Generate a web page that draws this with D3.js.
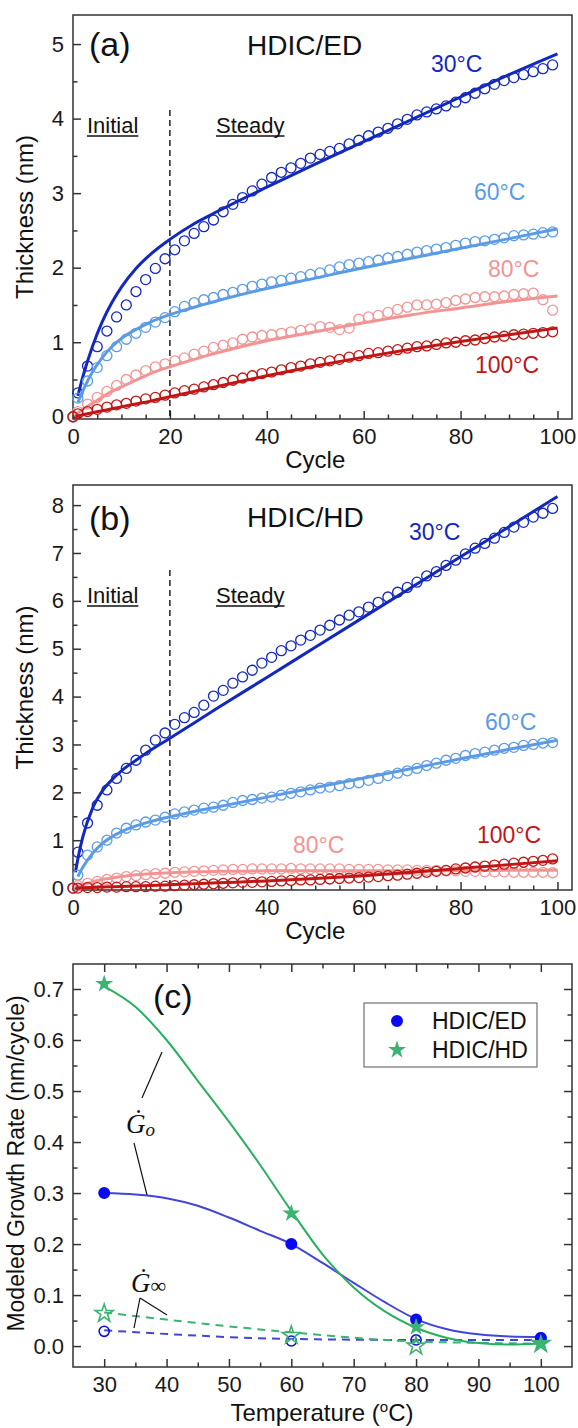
<!DOCTYPE html>
<html>
<head>
<meta charset="utf-8">
<script src="https://cdn.jsdelivr.net/npm/d3@7"></script>
<style>
  body { margin: 0; background: #fff; }
  svg { display: block; }
  text { font-family: "Liberation Sans", Arial, sans-serif; }
</style>
</head>
<body>
<div id="chart"></div>
<script>
// cycles where the measured thickness markers sit
const cycles = [0, 1, 3, 5, 7, 9, 11, 13, 15, 17, 19, 21, 23, 25, 27, 29, 31, 33, 35, 37, 39, 41, 43, 45, 47, 49,
  51, 53, 55, 57, 59, 61, 63, 65, 67, 69, 71, 73, 75, 77, 79, 81, 83, 85, 87, 89, 91, 93, 95, 97, 99];
// cycles where the model (fit) lines are sampled
const fitCycles = [0.5, 1, 2, 4, 6, 8, 10, 13, 16, 20, 25, 30, 40, 50, 60, 70, 80, 90, 100];

// (a) HDIC/ED measured thickness (nm)
const ed30 = [0, 0.32, 0.68, 0.94, 1.15, 1.34, 1.50, 1.68, 1.84, 1.99, 2.12, 2.24, 2.36, 2.46, 2.55, 2.64, 2.75, 2.85, 2.94, 3.03,
  3.12, 3.21, 3.28, 3.34, 3.40, 3.47, 3.52, 3.56, 3.60, 3.66, 3.71, 3.77, 3.82, 3.87, 3.93, 3.99, 4.05, 4.09, 4.13, 4.17,
  4.22, 4.28, 4.34, 4.40, 4.46, 4.51, 4.55, 4.59, 4.63, 4.67, 4.72];
const ed60 = [0, 0.25, 0.48, 0.66, 0.82, 0.94, 1.04, 1.12, 1.20, 1.27, 1.33, 1.41, 1.48, 1.53, 1.57, 1.60, 1.64, 1.67, 1.71, 1.75,
  1.78, 1.81, 1.83, 1.86, 1.88, 1.91, 1.93, 1.97, 2.01, 2.04, 2.06, 2.08, 2.10, 2.13, 2.15, 2.18, 2.21, 2.23, 2.25, 2.27,
  2.30, 2.33, 2.35, 2.36, 2.38, 2.40, 2.43, 2.44, 2.45, 2.47, 2.48];
const ed80 = [0, 0.07, 0.17, 0.26, 0.34, 0.42, 0.50, 0.56, 0.62, 0.67, 0.71, 0.75, 0.79, 0.84, 0.88, 0.93, 0.96, 0.99, 1.04, 1.07,
  1.09, 1.10, 1.12, 1.14, 1.16, 1.18, 1.21, 1.20, 1.17, 1.19, 1.31, 1.34, 1.36, 1.40, 1.44, 1.47, 1.50, 1.50, 1.51, 1.53,
  1.56, 1.58, 1.60, 1.61, 1.61, 1.62, 1.64, 1.65, 1.66, 1.57, 1.43];
const ed100 = [0, 0.04, 0.07, 0.10, 0.13, 0.16, 0.18, 0.21, 0.24, 0.26, 0.29, 0.32, 0.35, 0.37, 0.40, 0.43, 0.46, 0.49, 0.52, 0.55,
  0.58, 0.60, 0.63, 0.66, 0.68, 0.71, 0.73, 0.75, 0.77, 0.80, 0.82, 0.85, 0.86, 0.88, 0.90, 0.92, 0.94, 0.95, 0.97, 0.99,
  1.00, 1.02, 1.03, 1.05, 1.07, 1.08, 1.10, 1.11, 1.12, 1.13, 1.14];
// (a) model lines
const ed30Fit = [null, 0.28, 0.53, 0.94, 1.27, 1.53, 1.74, 1.99, 2.18, 2.38, 2.59, 2.76, 3.08, 3.39, 3.69, 3.99, 4.29, 4.59, 4.87];
const ed60Fit = [null, 0.19, 0.34, 0.60, 0.79, 0.94, 1.05, 1.17, 1.27, 1.37, 1.47, 1.56, 1.72, 1.86, 2.00, 2.13, 2.26, 2.39, 2.52];
const ed80Fit = [0.02, 0.05, 0.10, 0.18, 0.26, 0.34, 0.40, 0.49, 0.58, 0.67, 0.77, 0.86, 1.02, 1.14, 1.26, 1.37, 1.46, 1.55, 1.62];
const ed100Fit = [0.007, 0.013, 0.027, 0.054, 0.08, 0.107, 0.133, 0.173, 0.21, 0.27, 0.34, 0.41, 0.55, 0.68, 0.80, 0.91, 1.01, 1.10, 1.19];

// (b) HDIC/HD measured thickness (nm)
const hd30 = [0, 0.75, 1.36, 1.73, 2.05, 2.29, 2.50, 2.67, 2.88, 3.09, 3.24, 3.42, 3.56, 3.67, 3.82, 4.01, 4.13, 4.28, 4.41, 4.55,
  4.70, 4.82, 4.96, 5.06, 5.18, 5.28, 5.39, 5.49, 5.60, 5.70, 5.77, 5.87, 5.97, 6.08, 6.18, 6.28, 6.39, 6.52, 6.61, 6.74,
  6.85, 6.98, 7.10, 7.20, 7.31, 7.43, 7.54, 7.64, 7.75, 7.83, 7.93];
const hd60 = [0, 0.27, 0.69, 0.86, 1.00, 1.15, 1.25, 1.32, 1.38, 1.42, 1.48, 1.55, 1.59, 1.63, 1.67, 1.69, 1.73, 1.79, 1.83, 1.85,
  1.88, 1.90, 1.94, 1.98, 2.01, 2.05, 2.09, 2.11, 2.14, 2.18, 2.20, 2.25, 2.29, 2.35, 2.40, 2.45, 2.50, 2.56, 2.61, 2.67,
  2.71, 2.77, 2.81, 2.84, 2.88, 2.92, 2.94, 2.98, 3.00, 3.03, 3.04];
const hd80 = [0, 0.05, 0.10, 0.14, 0.18, 0.21, 0.24, 0.26, 0.28, 0.30, 0.31, 0.33, 0.34, 0.35, 0.36, 0.37, 0.38, 0.39, 0.39, 0.40,
  0.40, 0.40, 0.40, 0.41, 0.40, 0.40, 0.40, 0.40, 0.40, 0.39, 0.39, 0.39, 0.39, 0.38, 0.38, 0.38, 0.37, 0.37, 0.37, 0.36,
  0.36, 0.35, 0.35, 0.34, 0.34, 0.34, 0.33, 0.33, 0.33, 0.33, 0.32];
const hd100 = [0, 0.00, 0.01, 0.01, 0.02, 0.02, 0.03, 0.03, 0.03, 0.04, 0.04, 0.05, 0.06, 0.07, 0.08, 0.09, 0.10, 0.11, 0.12, 0.12,
  0.13, 0.14, 0.15, 0.16, 0.17, 0.17, 0.18, 0.19, 0.20, 0.21, 0.22, 0.23, 0.24, 0.26, 0.27, 0.29, 0.31, 0.33, 0.35, 0.37,
  0.40, 0.42, 0.44, 0.46, 0.48, 0.50, 0.52, 0.54, 0.56, 0.58, 0.61];
// (b) model lines
const hd30Fit = [0.33, 0.61, 1.06, 1.66, 2.02, 2.26, 2.45, 2.67, 2.88, 3.13, 3.45, 3.77, 4.40, 5.03, 5.66, 6.29, 6.92, 7.55, 8.18];
const hd60Fit = [null, 0.24, 0.43, 0.72, 0.93, 1.07, 1.18, 1.30, 1.39, 1.49, 1.60, 1.70, 1.90, 2.10, 2.30, 2.50, 2.70, 2.90, 3.09];
const hd80Fit = [0.02, 0.04, 0.07, 0.13, 0.18, 0.21, 0.24, 0.28, 0.30, 0.32, 0.34, 0.35, 0.36, 0.36, 0.36, 0.36, 0.36, 0.37, 0.37];
const hd100Fit = [0.002, 0.003, 0.007, 0.014, 0.021, 0.028, 0.035, 0.045, 0.055, 0.07, 0.09, 0.11, 0.15, 0.20, 0.26, 0.33, 0.41, 0.49, 0.57];

// (c) modeled growth rates (nm/cycle)
const temps = [30, 60, 80, 100];
const edGo = [0.30, 0.20, 0.052, 0.016];
const edGinf = [0.029, 0.010, 0.012, 0.016];
const hdGo = [0.71, 0.26, 0.037, 0.006];
const hdGinf = [0.064, 0.021, 0.0, 0.005];
const fitTemps = [30, 35, 40, 45, 50, 55, 60, 65, 70, 75, 80, 85, 90, 95, 100];
const edGoFit = [0.30, 0.297, 0.29, 0.275, 0.252, 0.226, 0.20, 0.163, 0.124, 0.086, 0.053, 0.033, 0.023, 0.019, 0.018];
const hdGoFit = [0.705, 0.665, 0.60, 0.52, 0.44, 0.355, 0.265, 0.18, 0.115, 0.068, 0.036, 0.016, 0.006, 0.003, 0.005];
const edGinfFit = [0.031, 0.014, 0.012, 0.012];
const hdGinfFit = [0.066, 0.027, 0.009, 0.005];

const tempLabels = ["30°C", "60°C", "80°C", "100°C"];
const tempColors = ["#1328bd", "#5b9be6", "#f29494", "#c01616"];
const axisColor = "#333";

const svg = d3.select("#chart").append("svg")
  .attr("width", 578)
  .attr("height", 1428);
svg.append("rect").attr("width", 578).attr("height", 1428).attr("fill", "#fff");

// ticks helper: d3 axis with inward ticks, domain path removed
function ticks(g, axisFn, scale, values, size, pad, fmt, tr) {
  const a = axisFn(scale).tickValues(values).tickSize(-size).tickPadding(pad)
    .tickFormat(fmt ? fmt : "");
  const sel = g.append("g").attr("transform", tr).call(a);
  sel.attr("font-size", null).attr("font-family", null);
  sel.select(".domain").remove();
  sel.selectAll("line").attr("stroke", axisColor).attr("stroke-width", 1.5);
  sel.selectAll("text").style("font-size", "22px").attr("fill", "#1a1a1a");
  return sel;
}

function underlined(g, str, x, yBase) {
  const t = g.append("text").attr("x", x).attr("y", yBase).style("font-size", "22px").attr("fill", "#111").text(str);
  const w = t.node().getComputedTextLength();
  g.append("line").attr("x1", x).attr("x2", x + w).attr("y1", yBase + 3).attr("y2", yBase + 3)
    .attr("stroke", "#111").attr("stroke-width", 1.4);
}

function thicknessPanel(p) {
  const x = d3.scaleLinear().domain([0, 103]).range([73, 572]);
  const y = d3.scaleLinear().domain(p.yDomain).range([p.bottom, p.top]);
  const g = svg.append("g");

  g.append("rect").attr("x", 73).attr("y", p.top).attr("width", 499).attr("height", p.bottom - p.top)
    .attr("fill", "none").attr("stroke", axisColor).attr("stroke-width", 1.5);

  ticks(g, d3.axisBottom, x, [0, 20, 40, 60, 80, 100], 8, 9, d3.format("d"), `translate(0,${p.bottom})`);
  ticks(g, d3.axisBottom, x, [5, 10, 15, 25, 30, 35, 45, 50, 55, 65, 70, 75, 85, 90, 95], 4.5, 9, null, `translate(0,${p.bottom})`);
  ticks(g, d3.axisLeft, y, p.yMajor, 8, 9, d3.format("d"), "translate(73,0)");
  ticks(g, d3.axisLeft, y, p.yMinor, 4.5, 9, null, "translate(73,0)");

  // stage divider and stage names
  g.append("line").attr("x1", x(20)).attr("x2", x(20)).attr("y1", p.dashTop).attr("y2", p.bottom)
    .attr("stroke", "#111").attr("stroke-width", 1.4).attr("stroke-dasharray", "6,4");
  underlined(g, "Initial", 87, p.stageY);
  underlined(g, "Steady", 216, p.stageY);

  const line = d3.line()
    .defined(d => d[1] != null)
    .x(d => x(d[0]))
    .y(d => y(d[1]))
    .curve(d3.curveMonotoneX);

  p.series.forEach((s, i) => {
    g.append("g").selectAll("circle")
      .data(cycles.map((c, k) => [c, s.points[k]]))
      .join("circle")
      .attr("cx", d => x(d[0]))
      .attr("cy", d => y(d[1]))
      .attr("r", 5)
      .attr("fill", "none")
      .attr("stroke", tempColors[i])
      .attr("stroke-width", 1.3);
    g.append("path")
      .datum(fitCycles.map((c, k) => [c, s.fit[k]]))
      .attr("d", line)
      .attr("fill", "none")
      .attr("stroke", tempColors[i])
      .attr("stroke-width", 3);
  });

  p.labels.forEach((l, i) => {
    g.append("text").attr("x", l[0]).attr("y", l[1]).style("font-size", "23px")
      .attr("fill", tempColors[i]).text(tempLabels[i]);
  });

  g.append("text").attr("x", 89).attr("y", p.tagY).style("font-size", "34px").attr("fill", "#111").text(p.tag);
  g.append("text").attr("x", 247).attr("y", p.titleY).style("font-size", "28px").attr("fill", "#111").text(p.title);

  g.append("text").attr("x", x(50)).attr("y", p.bottom + 49).attr("text-anchor", "middle")
    .style("font-size", "24px").attr("fill", "#111").text("Cycle");
  g.append("text").attr("transform", `translate(25,${(p.top + p.bottom) / 2}) rotate(-90)`)
    .attr("text-anchor", "middle").attr("dy", "0.35em").style("font-size", "24px").attr("fill", "#111")
    .text("Thickness (nm)");
}

thicknessPanel({
  top: 15, bottom: 419, yDomain: [-0.03, 5.39],
  yMajor: [0, 1, 2, 3, 4, 5], yMinor: [0.5, 1.5, 2.5, 3.5, 4.5],
  dashTop: 110, stageY: 133, tag: "(a)", tagY: 56, title: "HDIC/ED", titleY: 55,
  series: [
    { points: ed30, fit: ed30Fit },
    { points: ed60, fit: ed60Fit },
    { points: ed80, fit: ed80Fit },
    { points: ed100, fit: ed100Fit }
  ],
  labels: [[431, 72], [474, 200], [488, 277], [475, 373]]
});

thicknessPanel({
  top: 485, bottom: 890, yDomain: [-0.04, 8.42],
  yMajor: [0, 1, 2, 3, 4, 5, 6, 7, 8], yMinor: [0.5, 1.5, 2.5, 3.5, 4.5, 5.5, 6.5, 7.5],
  dashTop: 570, stageY: 603, tag: "(b)", tagY: 530, title: "HDIC/HD", titleY: 527,
  series: [
    { points: hd30, fit: hd30Fit },
    { points: hd60, fit: hd60Fit },
    { points: hd80, fit: hd80Fit },
    { points: hd100, fit: hd100Fit }
  ],
  labels: [[409, 540], [485, 730], [293, 853], [477, 843]]
});

// (c) growth rate vs temperature
(function ratePanel() {
  const top = 964, bottom = 1367;
  const x = d3.scaleLinear().domain([25, 105]).range([73, 572]);
  const y = d3.scaleLinear().domain([-0.041, 0.749]).range([bottom, top]);
  const g = svg.append("g");
  const blue = "#0a0af0", blueLine = "#4444d6", green = "#3cb371", greenLine = "#28b05e";

  g.append("rect").attr("x", 73).attr("y", top).attr("width", 499).attr("height", bottom - top)
    .attr("fill", "none").attr("stroke", axisColor).attr("stroke-width", 1.5);

  const xMaj = [30, 40, 50, 60, 70, 80, 90, 100], xMin = [35, 45, 55, 65, 75, 85, 95];
  const yMaj = [0, 0.1, 0.2, 0.3, 0.4, 0.5, 0.6, 0.7], yMin = [0.05, 0.15, 0.25, 0.35, 0.45, 0.55, 0.65];
  ticks(g, d3.axisBottom, x, xMaj, 8, 9, d3.format("d"), `translate(0,${bottom})`);
  ticks(g, d3.axisBottom, x, xMin, 4.5, 9, null, `translate(0,${bottom})`);
  ticks(g, d3.axisTop, x, xMaj, 8, 9, null, `translate(0,${top})`);
  ticks(g, d3.axisTop, x, xMin, 4.5, 9, null, `translate(0,${top})`);
  ticks(g, d3.axisLeft, y, yMaj, 8, 9, d3.format(".1f"), "translate(73,0)");
  ticks(g, d3.axisLeft, y, yMin, 4.5, 9, null, "translate(73,0)");
  ticks(g, d3.axisRight, y, yMaj, 8, 9, null, "translate(572,0)");
  ticks(g, d3.axisRight, y, yMin, 4.5, 9, null, "translate(572,0)");

  const line = d3.line().x(d => x(d[0])).y(d => y(d[1])).curve(d3.curveMonotoneX);
  const pairs = (xs, ys) => xs.map((v, i) => [v, ys[i]]);

  g.append("path").datum(pairs(temps, edGinfFit)).attr("d", line).attr("fill", "none")
    .attr("stroke", blueLine).attr("stroke-width", 2).attr("stroke-dasharray", "8,6");
  g.append("path").datum(pairs(temps, hdGinfFit)).attr("d", line).attr("fill", "none")
    .attr("stroke", green).attr("stroke-width", 2).attr("stroke-dasharray", "8,6");
  g.append("path").datum(pairs(fitTemps, edGoFit)).attr("d", line).attr("fill", "none")
    .attr("stroke", blueLine).attr("stroke-width", 2);
  g.append("path").datum(pairs(fitTemps, hdGoFit)).attr("d", line).attr("fill", "none")
    .attr("stroke", greenLine).attr("stroke-width", 2);

  const star = d3.symbol().type(d3.symbolStar).size(100);
  const dot = d3.symbol().type(d3.symbolCircle).size(113);
  const dotOpen = d3.symbol().type(d3.symbolCircle).size(80);

  g.append("g").selectAll("path").data(pairs(temps, edGinf)).join("path")
    .attr("transform", d => `translate(${x(d[0])},${y(d[1])})`).attr("d", dotOpen)
    .attr("fill", "none").attr("stroke", blue).attr("stroke-width", 1.6);
  g.append("g").selectAll("path").data(pairs(temps, hdGinf)).join("path")
    .attr("transform", d => `translate(${x(d[0])},${y(d[1])})`).attr("d", star)
    .attr("fill", "none").attr("stroke", green).attr("stroke-width", 1.6);
  g.append("g").selectAll("path").data(pairs(temps, edGo)).join("path")
    .attr("transform", d => `translate(${x(d[0])},${y(d[1])})`).attr("d", dot).attr("fill", blue);
  g.append("g").selectAll("path").data(pairs(temps, hdGo)).join("path")
    .attr("transform", d => `translate(${x(d[0])},${y(d[1])})`).attr("d", star).attr("fill", green);

  // legend
  g.append("rect").attr("x", 364).attr("y", 1003).attr("width", 173).attr("height", 64)
    .attr("fill", "#fff").attr("stroke", "#555").attr("stroke-width", 1);
  g.append("path").attr("transform", "translate(397,1021)").attr("d", dot).attr("fill", blue);
  g.append("path").attr("transform", "translate(397,1050)").attr("d", star).attr("fill", green);
  g.append("text").attr("x", 432).attr("y", 1029).style("font-size", "23px").attr("fill", "#111").text("HDIC/ED");
  g.append("text").attr("x", 432).attr("y", 1058).style("font-size", "23px").attr("fill", "#111").text("HDIC/HD");

  g.append("text").attr("x", 153).attr("y", 1008).style("font-size", "34px").attr("fill", "#111").text("(c)");

  // annotation pointers
  const pointers = [[162, 1052, 142, 1098], [134, 1143, 147, 1195], [140, 1298, 167, 1315], [140, 1298, 134, 1328]];
  g.selectAll(".ptr").data(pointers).join("line")
    .attr("x1", d => d[0]).attr("y1", d => d[1]).attr("x2", d => d[2]).attr("y2", d => d[3])
    .attr("stroke", "#111").attr("stroke-width", 1.2);
  const go = g.append("text").attr("x", 126).attr("y", 1133)
    .style("font-family", "'Liberation Serif', 'DejaVu Serif', serif").style("font-style", "italic").attr("fill", "#111");
  go.append("tspan").style("font-size", "27px").text("Ġ");
  go.append("tspan").style("font-size", "19px").attr("dy", 3).text("o");
  const gi = g.append("text").attr("x", 131).attr("y", 1292)
    .style("font-family", "'Liberation Serif', 'DejaVu Serif', serif").attr("fill", "#111");
  gi.append("tspan").style("font-size", "27px").style("font-style", "italic").text("Ġ");
  gi.append("tspan").style("font-size", "22px").attr("dy", 1).text("∞");

  const xt = g.append("text").attr("x", 322).attr("y", 1421).attr("text-anchor", "middle")
    .style("font-size", "24px").attr("fill", "#111");
  xt.append("tspan").text("Temperature (");
  xt.append("tspan").attr("dy", -9).style("font-size", "15px").text("o");
  xt.append("tspan").attr("dy", 9).text("C)");
  g.append("text").attr("transform", `translate(16,${(top + bottom) / 2 - 2}) rotate(-90)`)
    .attr("text-anchor", "middle").attr("dy", "0.35em").style("font-size", "23px").attr("fill", "#111")
    .text("Modeled Growth Rate (nm/cycle)");
})();
</script>
</body>
</html>
